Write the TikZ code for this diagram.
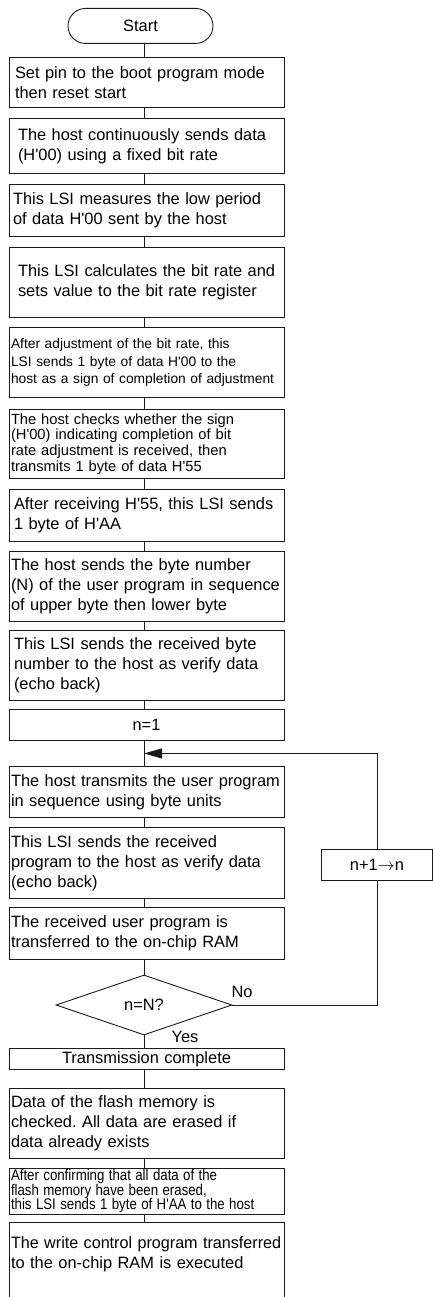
\documentclass[tikz,border=0pt]{standalone}
\usepackage{fontspec}
\setmainfont{Liberation Sans}[Ligatures=TeXOff]
\usepackage{graphicx}
\usepackage{tikz}
\usetikzlibrary{arrows.meta,calc,positioning,shapes.geometric}
\definecolor{FlowInk}{HTML}{1A1A1A}
\newcommand{\FlowFont}{\fontsize{16.4}{20}\selectfont}
\newcommand{\Narrow}[1]{\scalebox{.86}[1]{#1}}
\frenchspacing

\begin{document}
\begin{tikzpicture}[x=1pt,y=-1pt,
  flowline/.style={draw=FlowInk,line width=.9pt},
  indent/.style={execute at begin node={\hyphenpenalty=10000\exhyphenpenalty=10000\leftskip=#1pt}},
  boxbase/.style={flowline,minimum width=275pt,text width=271pt,inner xsep=2pt,inner ysep=2pt,
    anchor=north,font=\FlowFont},
  stepbox/.style={boxbase,align=left,indent=0},
  midbox/.style={boxbase,align=center},
  lbl/.style={font=\FlowFont,inner sep=0pt}]
  \useasboundingbox (0,0) rectangle (433,1297);
  \coordinate (trunk) at (144,0);
  \node[flowline,anchor=north,minimum width=145pt,minimum height=35pt,rounded corners=17.5pt,font=\FlowFont] (start) at (140.5,8) {Start};
  \node[stepbox,minimum height=50pt,indent=4] (b1) at (146.5,57) {Set pin to the boot program mode\\then reset start};
  \node[stepbox,minimum height=55pt,indent=7] (b2) at (146.5,118) {The host continuously sends data\\(H'00) using a fixed bit rate};
  \node[stepbox,minimum height=52pt,indent=2] (b3) at (146.5,184) {This LSI measures the low period\\of data H'00 sent by the host};
  \node[stepbox,minimum height=70pt,indent=7] (b4) at (146.5,247) {\mbox{This LSI calculates the bit rate and}\\sets value to the bit rate register};
  \node[stepbox,minimum height=70pt,font=\fontsize{13.8}{17.3}\selectfont] (b5) at (146.5,327) {After adjustment of the bit rate, this\\LSI sends 1 byte of data H'00 to the\\\mbox{host as a sign of completion of adjustment}};
  \node[stepbox,minimum height=69pt,font=\fontsize{14.7}{15.6}\selectfont] (b6) at (146.5,409) {The host checks whether the sign\\(H'00) indicating completion of bit\\rate adjustment is received, then\\transmits 1 byte of data H'55};
  \node[stepbox,minimum height=52pt,indent=3] (b7) at (146.5,489) {After receiving H'55, this LSI sends\\1 byte of H'AA};
  \node[stepbox,minimum height=70pt] (b8) at (146.5,551) {The host sends the byte number\\\mbox{(N) of the user program in sequence}\\of upper byte then lower byte};
  \node[stepbox,minimum height=70pt,indent=3] (b9) at (146.5,630) {This LSI sends the received byte\\number to the host as verify data\\(echo back)};
  \node[midbox,minimum height=31pt] (n1) at (146.5,709) {n=1};
  \node[stepbox,minimum height=51pt] (b10) at (146.5,766) {\mbox{The host transmits the user program}\\in sequence using byte units};
  \node[stepbox,minimum height=71pt] (b11) at (146.5,827) {This LSI sends the received\\program to the host as verify data\\(echo back)};
  \node[stepbox,minimum height=52pt] (b12) at (146.5,907) {The received user program is\\transferred to the on-chip RAM};
  \node[flowline,shape=diamond,minimum width=176pt,minimum height=60pt,inner sep=0pt,aspect=2.9,font=\FlowFont] (check) at (144,1005) {n=N?};
  \node[midbox,minimum height=21pt,inner ysep=1pt] (done) at (146.5,1048) {Transmission complete};
  \node[stepbox,minimum height=70pt] (b14) at (146.5,1088) {Data of the flash memory is\\checked. All data are erased if\\data already exists};
  \node[stepbox,minimum height=44pt,inner ysep=1pt,font=\fontsize{15.4}{14.6}\selectfont] (b15) at (146.5,1168) {\Narrow{After confirming that all data of the}\\\Narrow{flash memory have been erased,}\\\Narrow{this LSI sends 1 byte of H'AA to the host}};
  \node[stepbox,minimum height=80pt] (b16) at (146.5,1222) {\mbox{\scalebox{.985}[1]{The write control program transferred}}\\to the on-chip RAM is executed\\ \mbox{}};
  \node[flowline,minimum width=111pt,minimum height=31pt,font=\FlowFont] (loop) at (377,864.5) {n+1$\rightarrow$n};
  \node[lbl] (no) at (242,992) {No};
  \node[lbl] (yes) at (185,1037) {Yes};
  % main trunk
  \foreach \a/\b in {start/b1,b1/b2,b2/b3,b3/b4,b4/b5,b5/b6,b6/b7,b7/b8,b8/b9,b9/n1,n1/b10,
    b10/b11,b11/b12,b12/check,check/done,done/b14,b14/b15,b15/b16}
    \draw[flowline] (\a.south -| trunk) -- (\b.north -| trunk);
  % loop back
  \coordinate (join) at ($(n1.south -| trunk)!.5!(b10.north -| trunk)$);
  \draw[flowline] (check.east) -| (loop.south);
  \draw[flowline,-{Triangle[length=18pt,width=10pt]}] (loop.north) |- (join);
\end{tikzpicture}
\end{document}
